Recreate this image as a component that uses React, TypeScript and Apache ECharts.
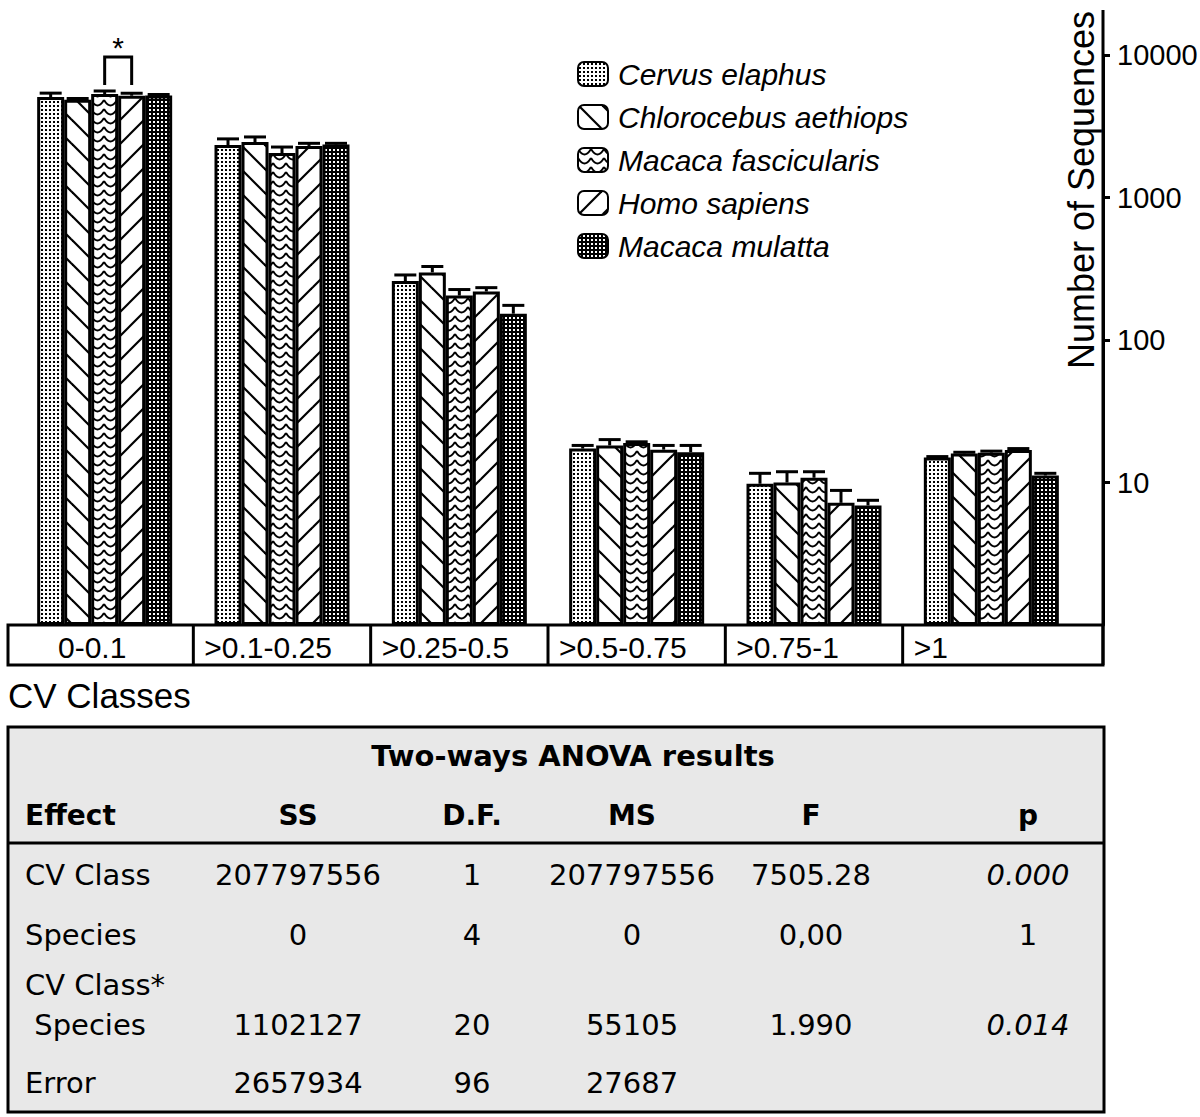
import React, { useEffect, useRef } from "react";
import * as echarts from "echarts";

// ---------- data ----------
const categories = ["0-0.1", ">0.1-0.25", ">0.25-0.5", ">0.5-0.75", ">0.75-1", ">1"];
const speciesNames = [
  "Cervus elaphus",
  "Chlorocebus aethiops",
  "Macaca fascicularis",
  "Homo sapiens",
  "Macaca mulatta",
];
const cervusElaphus = [5070, 2335, 259, 17.3, 9.8, 15.0];
const cervusElaphusErr = [330, 243, 27, 0.9, 1.8, 0.2];
const chlorocebusAethiops = [4850, 2450, 298, 18.2, 10.0, 16.0];
const chlorocebusAethiopsErr = [100, 210, 30, 1.8, 1.9, 0.3];
const macacaFascicularis = [5320, 2050, 205, 18.9, 10.8, 16.2];
const macacaFascicularisErr = [270, 210, 21, 0.4, 1.1, 0.4];
const homoSapiens = [5180, 2300, 219, 17.0, 7.2, 16.9];
const homoSapiensErr = [210, 100, 14, 1.2, 1.6, 0.4];
const macacaMulatta = [5200, 2350, 153, 16.3, 6.9, 11.2];
const macacaMulattaErr = [80, 50, 22, 1.9, 0.6, 0.4];

const yTickValues = [10, 100, 1000, 10000];
const yAxisTitle = "Number of Sequences";
const xAxisTitle = "CV Classes";

// significance bracket (category index, species indices, low/high values)
const bracketCategory = 0;
const bracketFrom = 2;
const bracketTo = 3;
const bracketLow = 6150;
const bracketHigh = 9700;
const bracketLabel = "*";

// ANOVA table
const tableTitle = "Two-ways ANOVA results";
const tableHeaders = ["Effect", "SS", "D.F.", "MS", "F", "p"];
const effectLabels = [["CV Class"], ["Species"], ["CV Class*", " Species"], ["Error"]];
const ssValues = ["207797556", "0", "1102127", "2657934"];
const dfValues = ["1", "4", "20", "96"];
const msValues = ["207797556", "0", "55105", "27687"];
const fValues = ["7505.28", "0,00", "1.990", ""];
const pValues = ["0.000", "1", "0.014", ""];
const pItalic = [true, false, true, false];

// ---------- layout constants ----------
const W = 1200;
const H = 1117;
const GRID_LEFT = 16;
const GRID_RIGHT_X = 1080;
const GRID_TOP = 55;
const PLOT_BOTTOM = 625;
const AXIS_X = 1103;
const BAR_W = 27;
const CHART_FONT = "Liberation Sans, Arial, sans-serif";
const TABLE_FONT = "DejaVu Sans";

function makeTile(w: number, h: number, bg: string, draw: (ctx: CanvasRenderingContext2D) => void) {
  const c = document.createElement("canvas");
  c.width = w;
  c.height = h;
  const ctx = c.getContext("2d")!;
  ctx.fillStyle = bg;
  ctx.fillRect(0, 0, w, h);
  draw(ctx);
  return { image: c, repeat: "repeat", imageWidth: w, imageHeight: h } as any;
}

function buildPatterns() {
  const dots = makeTile(4, 4, "#fff", (ctx) => {
    ctx.fillStyle = "#000";
    ctx.fillRect(1, 1, 2, 2);
  });
  const S = 24;
  const back = makeTile(S, S, "#fff", (ctx) => {
    ctx.strokeStyle = "#000";
    ctx.lineWidth = 2.2;
    for (const o of [-S, 0, S]) {
      ctx.beginPath();
      ctx.moveTo(o - 2, -2);
      ctx.lineTo(o + S + 2, S + 2);
      ctx.stroke();
    }
  });
  const waves = makeTile(13, 9, "#fff", (ctx) => {
    ctx.strokeStyle = "#000";
    ctx.lineWidth = 2;
    ctx.beginPath();
    ctx.moveTo(0, 1);
    ctx.quadraticCurveTo(6.5, 12, 13, 1);
    ctx.stroke();
  });
  const fwd = makeTile(S, S, "#fff", (ctx) => {
    ctx.strokeStyle = "#000";
    ctx.lineWidth = 2.2;
    for (const o of [-S, 0, S]) {
      ctx.beginPath();
      ctx.moveTo(o - 2, S + 2);
      ctx.lineTo(o + S + 2, -2);
      ctx.stroke();
    }
  });
  const dark = makeTile(4, 4, "#000", (ctx) => {
    ctx.fillStyle = "#fff";
    ctx.fillRect(1, 1, 2, 2);
  });
  return [dots, back, waves, fwd, dark];
}

function txt(
  text: string,
  x: number,
  y: number,
  opts: { size?: number; family?: string; weight?: string; italic?: boolean; align?: string; vAlign?: string; rotation?: number } = {}
) {
  const align = opts.align || "left";
  const vAlign = opts.vAlign || "middle";
  return {
    type: "text",
    x,
    y,
    rotation: opts.rotation || 0,
    z: 10,
    silent: true,
    style: {
      text,
      fill: "#000",
      fontSize: opts.size || 29,
      fontFamily: opts.family || CHART_FONT,
      fontWeight: opts.weight || "normal",
      fontStyle: opts.italic ? "italic" : "normal",
      align,
      textAlign: align,
      verticalAlign: vAlign,
      textVerticalAlign: vAlign,
    },
  };
}

export default function App() {
  const ref = useRef<HTMLDivElement>(null);

  useEffect(() => {
    document.body.style.margin = "0";
    if (!ref.current) return;
    const chart = echarts.init(ref.current, undefined, { renderer: "svg" });
    const patterns = buildPatterns();

    const values = [cervusElaphus, chlorocebusAethiops, macacaFascicularis, homoSapiens, macacaMulatta];
    const errors = [cervusElaphusErr, chlorocebusAethiopsErr, macacaFascicularisErr, homoSapiensErr, macacaMulattaErr];

    const barSeries = speciesNames.map((name, s) => ({
      name,
      type: "bar",
      data: values[s],
      barWidth: BAR_W,
      barGap: "0%",
      itemStyle: { color: patterns[s], borderColor: "#000", borderWidth: 3 },
      emphasis: { disabled: true },
      z: 2,
    }));

    const errorData: number[][] = [];
    values.forEach((arr, s) =>
      arr.forEach((v, c) => errorData.push([c, s, v, errors[s][c]]))
    );

    const errorSeries = {
      type: "custom",
      silent: true,
      z: 5,
      data: errorData,
      encode: { x: 0, y: 2 },
      renderItem: (_p: any, api: any) => {
        const c = api.value(0);
        const s = api.value(1);
        const v = api.value(2);
        const e = api.value(3);
        const p0 = api.coord([c, v]);
        const p1 = api.coord([c, v + e]);
        const x = p0[0] + (s - 2) * BAR_W;
        return {
          type: "group",
          children: [
            { type: "line", shape: { x1: x, y1: p0[1], x2: x, y2: p1[1] }, style: { stroke: "#000", lineWidth: 3 } },
            { type: "line", shape: { x1: x - 11, y1: p1[1], x2: x + 11, y2: p1[1] }, style: { stroke: "#000", lineWidth: 3 } },
          ],
        };
      },
    };

    const bracketSeries = {
      type: "custom",
      silent: true,
      z: 6,
      data: [[bracketCategory, bracketLow, bracketHigh]],
      encode: { x: 0, y: 2 },
      renderItem: (_p: any, api: any) => {
        const c = api.value(0);
        const lo = api.coord([c, api.value(1)]);
        const hi = api.coord([c, api.value(2)]);
        const xa = lo[0] + (bracketFrom - 2) * BAR_W;
        const xb = lo[0] + (bracketTo - 2) * BAR_W;
        return {
          type: "group",
          children: [
            {
              type: "polyline",
              shape: { points: [[xa, lo[1]], [xa, hi[1]], [xb, hi[1]], [xb, lo[1]]] },
              style: { stroke: "#000", lineWidth: 3, fill: "none" },
            },
            {
              type: "text",
              x: (xa + xb) / 2,
              y: hi[1] - 9,
              style: {
                text: bracketLabel,
                fill: "#000",
                fontSize: 30,
                fontFamily: CHART_FONT,
                align: "center",
                verticalAlign: "middle",
              },
            },
          ],
        };
      },
    };

    const band = (GRID_RIGHT_X - GRID_LEFT) / categories.length;
    const graphic: any[] = [];

    // y axis full line (extends above 10000 and below into the label row)
    graphic.push({
      type: "line",
      z: 9,
      silent: true,
      shape: { x1: AXIS_X, y1: 10, x2: AXIS_X, y2: PLOT_BOTTOM + 40 },
      style: { stroke: "#000", lineWidth: 3 },
    });
    graphic.push(txt(yAxisTitle, 1081, 190, { size: 36, align: "center", rotation: Math.PI / 2 }));

    // category label row
    graphic.push({
      type: "rect",
      z: 8,
      silent: true,
      shape: { x: 8, y: PLOT_BOTTOM, width: AXIS_X - 8, height: 40 },
      style: { fill: "#fff", stroke: "#000", lineWidth: 3 },
    });
    for (let i = 1; i < categories.length; i++) {
      const x = GRID_LEFT + i * band;
      graphic.push({
        type: "line",
        z: 9,
        silent: true,
        shape: { x1: x, y1: PLOT_BOTTOM, x2: x, y2: PLOT_BOTTOM + 40 },
        style: { stroke: "#000", lineWidth: 3 },
      });
    }
    categories.forEach((c, i) => {
      const x = i === 0 ? 58 : GRID_LEFT + i * band + 11;
      graphic.push(txt(c, x, PLOT_BOTTOM + 22, { size: 30 }));
    });
    graphic.push(txt(xAxisTitle, 8, 695, { size: 35 }));

    // ANOVA table
    const TX = 8;
    const TY = 727;
    const TW = 1096;
    const TH = 385;
    graphic.push({
      type: "rect",
      z: 8,
      silent: true,
      shape: { x: TX, y: TY, width: TW, height: TH },
      style: { fill: "#e8e8e8", stroke: "#000", lineWidth: 3 },
    });
    graphic.push({
      type: "line",
      z: 9,
      silent: true,
      shape: { x1: TX, y1: 843, x2: TX + TW, y2: 843 },
      style: { stroke: "#000", lineWidth: 3 },
    });
    graphic.push(txt(tableTitle, 573, 756, { size: 29, family: TABLE_FONT, weight: "bold", align: "center" }));
    const colX = [25, 298, 472, 632, 811, 1028];
    tableHeaders.forEach((h, i) => {
      graphic.push(
        txt(h, colX[i], 815, { size: 28, family: TABLE_FONT, weight: "bold", align: i === 0 ? "left" : "center" })
      );
    });
    const rowY = [875, 935, 1025, 1083];
    effectLabels.forEach((lines, r) => {
      lines.forEach((line, k) => {
        const y = rowY[r] - (lines.length - 1 - k) * 40;
        graphic.push(txt(line, colX[0], y, { size: 29, family: TABLE_FONT }));
      });
      const cols = [ssValues[r], dfValues[r], msValues[r], fValues[r], pValues[r]];
      cols.forEach((v, j) => {
        if (!v) return;
        graphic.push(
          txt(v, colX[j + 1], rowY[r], {
            size: 29,
            family: TABLE_FONT,
            align: "center",
            italic: j === 4 && pItalic[r],
          })
        );
      });
    });

    chart.setOption({
      animation: false,
      backgroundColor: "#fff",
      textStyle: { fontFamily: CHART_FONT, color: "#000" },
      grid: {
        left: GRID_LEFT,
        right: W - GRID_RIGHT_X,
        top: GRID_TOP,
        bottom: H - PLOT_BOTTOM,
        containLabel: false,
        outerBoundsMode: "none",
      },
      legend: {
        data: speciesNames,
        orient: "vertical",
        left: 577,
        top: 59,
        padding: 0,
        itemWidth: 30,
        itemHeight: 24,
        itemGap: 13,
        selectedMode: false,
        textStyle: {
          fontSize: 30,
          fontStyle: "italic",
          fontFamily: CHART_FONT,
          color: "#000",
          padding: [0, 0, 0, 5],
        },
      },
      xAxis: {
        type: "category",
        data: categories,
        axisLine: { show: false },
        axisTick: { show: false },
        axisLabel: { show: false },
        splitLine: { show: false },
      },
      yAxis: {
        type: "log",
        logBase: 10,
        min: 1,
        max: yTickValues[yTickValues.length - 1],
        position: "right",
        offset: AXIS_X - GRID_RIGHT_X,
        axisLine: { show: true, lineStyle: { color: "#000", width: 3 } },
        axisTick: { show: true, length: 7, lineStyle: { color: "#000", width: 3 } },
        axisLabel: {
          margin: 14,
          fontSize: 29,
          color: "#000",
          fontFamily: CHART_FONT,
          showMinLabel: false,
          formatter: (v: number) => (yTickValues.indexOf(Math.round(v)) >= 0 ? String(Math.round(v)) : ""),
        },
        splitLine: { show: false },
      },
      series: [...barSeries, errorSeries, bracketSeries],
      graphic,
    } as any);

    return () => chart.dispose();
  }, []);

  return <div ref={ref} style={{ width: W, height: H, background: "#fff" }} />;
}
